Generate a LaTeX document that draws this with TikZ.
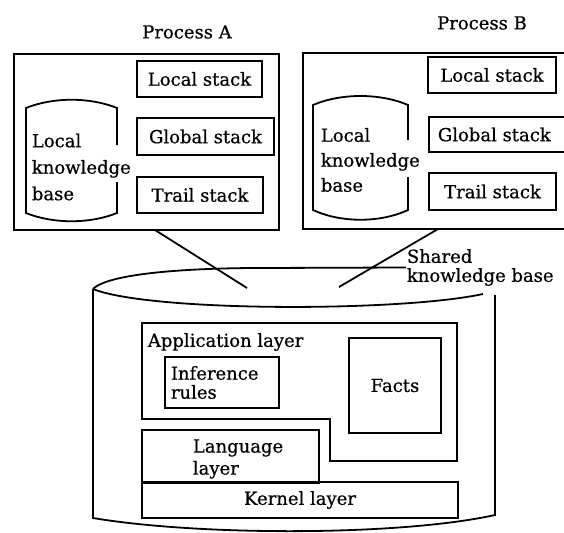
\documentclass[tikz,border=0pt]{standalone}
\usepackage{fontspec}
\setmainfont{DejaVu Serif}[FakeBold=0.6]
\begin{document}
\begin{tikzpicture}[x=1pt,y=-1pt,line width=1.8pt,
  every node/.style={font=\fontsize{18}{19}\selectfont, inner sep=0pt},
  box/.style={draw, rectangle},
  lbl/.style={align=left, anchor=west}]
\clip (0,0) rectangle (564,532);
% Process A
\node (plA) at (187,32) {Process A};
\node[box, minimum width=265pt, minimum height=176pt] (pA) at (146.5,142) {};
\node[box, minimum width=125pt, minimum height=36pt] (lsA) at (199.5,79) {Local stack};
\node[box, minimum width=137pt, minimum height=37pt] (gsA) at (205.5,136.5) {Global stack};
\node[box, minimum width=126pt, minimum height=36pt] (tsA) at (200,195) {Trail stack};
\draw (117,145) -- (117,108) .. controls (90,97) and (53,97) .. (26,108) -- (26,213)
  .. controls (53,224) and (90,224) .. (117,213) -- (117,182);
\node[lbl, font=\fontsize{18}{26.5}\selectfont] (kbA) at (31,167) {Local\\knowledge\\base};
% Process B
\node (plB) at (482,23) {Process B};
\node[box, minimum width=272pt, minimum height=176pt] (pB) at (439,141) {};
\node[box, minimum width=128pt, minimum height=36pt] (lsB) at (492,75) {Local stack};
\node[box, minimum width=151pt, minimum height=35pt] (gsB) at (504.5,134.5) {};
\node[anchor=west] (gsBt) at (437,134.5) {Global stack};
\node[box, minimum width=127pt, minimum height=37pt] (tsB) at (492.5,191.5) {Trail stack};
\draw (408,140) -- (408,105) .. controls (380,93) and (341,93) .. (313,105) -- (313,210)
  .. controls (341,223) and (380,223) .. (408,210) -- (408,177);
\node[lbl, font=\fontsize{18}{25}\selectfont] (kbB) at (320,160) {Local\\knowledge\\base};
% Shared knowledge base
\node[lbl] (shared) at (406,267.5) {Shared\\knowledge base};
\draw (shared.west) -- (260,268) .. controls (200,268) and (110,272) .. (93,289);
\draw (93,289) .. controls (150,312) and (400,312) .. (483,294);
\draw (93,289) -- (93,518) .. controls (200,536) and (400,536) .. (495,515) -- (495,295);
% connectors
\coordinate (aS) at (155,230);
\coordinate (aE) at (247,288);
\coordinate (bS) at (438,229);
\coordinate (bE) at (339,287);
\draw (aS) -- (aE);
\draw (bS) -- (bE);
% Application layer
\draw (142,323) -- (457,323) -- (457,461) -- (330,461) -- (330,419) -- (142,419) -- cycle;
\node[anchor=west] (app) at (147,342) {Application layer};
\node[box, minimum width=114pt, minimum height=51pt] (inf) at (222,382.5) {};
\node[lbl] (inft) at (170,382.5) {Inference\\rules};
\node[box, minimum width=92pt, minimum height=95pt] (facts) at (395,385.5) {Facts};
\node[box, minimum width=177pt, minimum height=53pt] (lang) at (230.5,456.5) {};
\node[lbl, font=\fontsize{18}{22}\selectfont] (langt) at (192,459) {Language\\layer};
\node[box, minimum width=316pt, minimum height=36pt] (kern) at (300,500) {Kernel layer};
\end{tikzpicture}
\end{document}
